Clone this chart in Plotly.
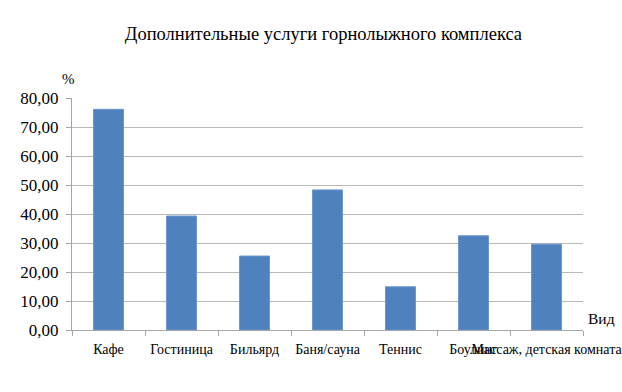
import plotly.graph_objects as go

categories = ["Кафе", "Гостиница", "Бильярд", "Баня/сауна", "Теннис", "Боулинг", "Массаж, детская комната"]
values = [76.1, 39.3, 25.5, 48.3, 14.9, 32.5, 29.6]
title = "Дополнительные услуги горнолыжного комплекса"

fig = go.Figure(go.Bar(
    x=categories, y=values,
    marker=dict(color="#4f81bd", line=dict(color="#6b96cc", width=1)),
))

font = "'Liberation Serif', 'Times New Roman', serif"
fig.update_layout(
    width=622, height=392,
    margin=dict(l=72, r=39, t=98, b=62, autoexpand=False),
    paper_bgcolor="white", plot_bgcolor="white",
    separators=", ",
    bargap=0.59,
    showlegend=False,
    font=dict(family=font, size=14, color="black"),
    title=dict(text=title, x=0.52, xanchor="center", y=0.915, yanchor="middle",
               font=dict(family=font, size=18.5, color="black")),
    annotations=[
        dict(text="%", xref="paper", yref="paper", x=-0.007, y=1.08, xanchor="center", yanchor="middle",
             showarrow=False, font=dict(family=font, size=15)),
        dict(text="Вид", xref="paper", yref="paper", x=1.036, y=0.05, xanchor="center", yanchor="middle",
             showarrow=False, font=dict(family=font, size=15.5)),
    ],
)
fig.update_yaxes(range=[0, 80], dtick=10, tickformat=".2f", showgrid=True, gridcolor="#b8b8b8",
                 gridwidth=1, showline=True, linecolor="#a6a6a6", ticks="outside", ticklen=5,
                 tickcolor="#a6a6a6", zeroline=False, automargin=False, ticklabelstandoff=4,
                 tickfont=dict(family=font, size=17))
fig.update_xaxes(showline=True, linecolor="#a6a6a6", ticks="outside", tickson="boundaries",
                 ticklen=5, tickcolor="#a6a6a6", tickangle=0, showgrid=False, automargin=False,
                 ticklabelstandoff=6, tickfont=dict(family=font, size=14))

fig.write_html("out.html")
